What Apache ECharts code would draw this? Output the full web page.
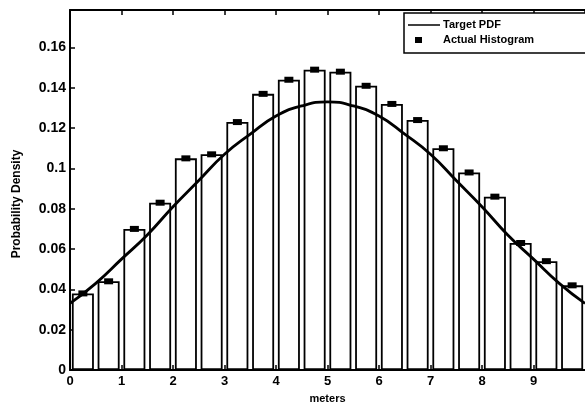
<!DOCTYPE html>
<html>
<head>
<meta charset="utf-8">
<script src="https://cdn.jsdelivr.net/npm/echarts@6/dist/echarts.min.js"></script>
<style>
  html, body { margin: 0; padding: 0; background: #fff; }
  #main { width: 585px; height: 409px; }
</style>
</head>
<body>
<div id="main"></div>
<script>
// histogram bins (bin centres, meters) and heights
const binCenters = [0.25, 0.75, 1.25, 1.75, 2.25, 2.75, 3.25, 3.75, 4.25, 4.75,
                    5.25, 5.75, 6.25, 6.75, 7.25, 7.75, 8.25, 8.75, 9.25, 9.75];
const histValues = [0.038, 0.044, 0.070, 0.083, 0.105, 0.107, 0.123, 0.137, 0.144, 0.149,
                    0.148, 0.141, 0.132, 0.124, 0.110, 0.098, 0.086, 0.063, 0.054, 0.042];

// target pdf curve, read at every half metre
const pdfX = [0, 0.5, 1, 1.5, 2, 2.5, 3, 3.5, 4, 4.5, 5, 5.5, 6, 6.5, 7, 7.5, 8, 8.5, 9, 9.5, 10];
const pdfY = [0.033, 0.043, 0.055, 0.067, 0.081, 0.094, 0.107, 0.117, 0.126, 0.131, 0.133,
              0.131, 0.126, 0.117, 0.107, 0.094, 0.081, 0.067, 0.055, 0.043, 0.033];

const legendNames = ['Target PDF', 'Actual Histogram'];

const font = 'Liberation Sans, Arial, sans-serif';

let myChart = echarts.init(document.getElementById('main'));

const barData = binCenters.map((x, i) => [x, histValues[i]]);
const pdfData = pdfX.map((x, i) => [x, pdfY[i]]);

let option = {
  animation: false,
  backgroundColor: '#fff',
  grid: { left: 70, top: 10, right: -8, bottom: 35 },
  xAxis: [
    {
      type: 'value',
      min: 0,
      max: 10,
      interval: 1,
      name: 'meters',
      nameLocation: 'middle',
      nameGap: 23,
      nameTextStyle: { color: '#000', fontWeight: 'bold', fontSize: 11, fontFamily: font },
      axisLine: { lineStyle: { color: '#000', width: 2 } },
      axisTick: { inside: true, length: 5, lineStyle: { color: '#000', width: 1.5 } },
      axisLabel: { color: '#000', fontWeight: 'bold', fontSize: 13, fontFamily: font, margin: 5, showMaxLabel: false },
      splitLine: { show: false }
    },
    {
      // top frame line
      type: 'value',
      position: 'top',
      min: 0,
      max: 10,
      interval: 1,
      axisLine: { show: true, onZero: false, lineStyle: { color: '#000', width: 2 } },
      axisTick: { show: true, inside: true, length: 5, lineStyle: { color: '#000', width: 1.5 } },
      axisLabel: { show: false },
      splitLine: { show: false }
    }
  ],
  yAxis: {
    type: 'value',
    min: 0,
    max: 0.1786,
    interval: 0.02,
    name: 'Probability Density',
    nameLocation: 'middle',
    nameGap: 47,
    nameTextStyle: { color: '#000', fontWeight: 'bold', fontSize: 12, fontFamily: font, padding: [0, 28, 0, 0] },
    axisLine: { show: true, lineStyle: { color: '#000', width: 2 } },
    axisTick: { inside: true, length: 5, lineStyle: { color: '#000', width: 1.5 } },
    axisLabel: { color: '#000', fontWeight: 'bold', fontSize: 14, fontFamily: font, margin: 4, showMaxLabel: false },
    splitLine: { show: false }
  },
  series: [
    {
      name: 'bins',
      type: 'bar',
      data: barData,
      barWidth: 22,
      itemStyle: { color: '#fff', borderColor: '#000', borderWidth: 1.8 },
      z: 1
    },
    {
      name: legendNames[0],
      type: 'line',
      data: pdfData,
      smooth: true,
      showSymbol: false,
      lineStyle: { color: '#000', width: 2.8 },
      z: 3
    },
    {
      name: legendNames[1],
      type: 'scatter',
      data: barData,
      symbol: 'rect',
      symbolSize: [9, 6],
      itemStyle: { color: '#000', opacity: 1 },
      z: 4
    }
  ],
  graphic: [
    {
      type: 'rect',
      shape: { x: 404, y: 13, width: 200, height: 40 },
      style: { fill: '#fff', stroke: '#000', lineWidth: 1.5 },
      z: 10
    },
    {
      type: 'line',
      shape: { x1: 408, y1: 25, x2: 440, y2: 25 },
      style: { stroke: '#000', lineWidth: 1.5 },
      z: 11
    },
    {
      type: 'rect',
      shape: { x: 415, y: 37, width: 7, height: 6 },
      style: { fill: '#000' },
      z: 11
    },
    {
      type: 'text',
      x: 443, y: 25,
      style: { text: legendNames[0], fill: '#000', font: 'bold 11px ' + font, verticalAlign: 'middle' },
      z: 11
    },
    {
      type: 'text',
      x: 443, y: 40,
      style: { text: legendNames[1], fill: '#000', font: 'bold 11px ' + font, verticalAlign: 'middle' },
      z: 11
    }
  ]
};

myChart.setOption(option);
</script>
</body>
</html>
